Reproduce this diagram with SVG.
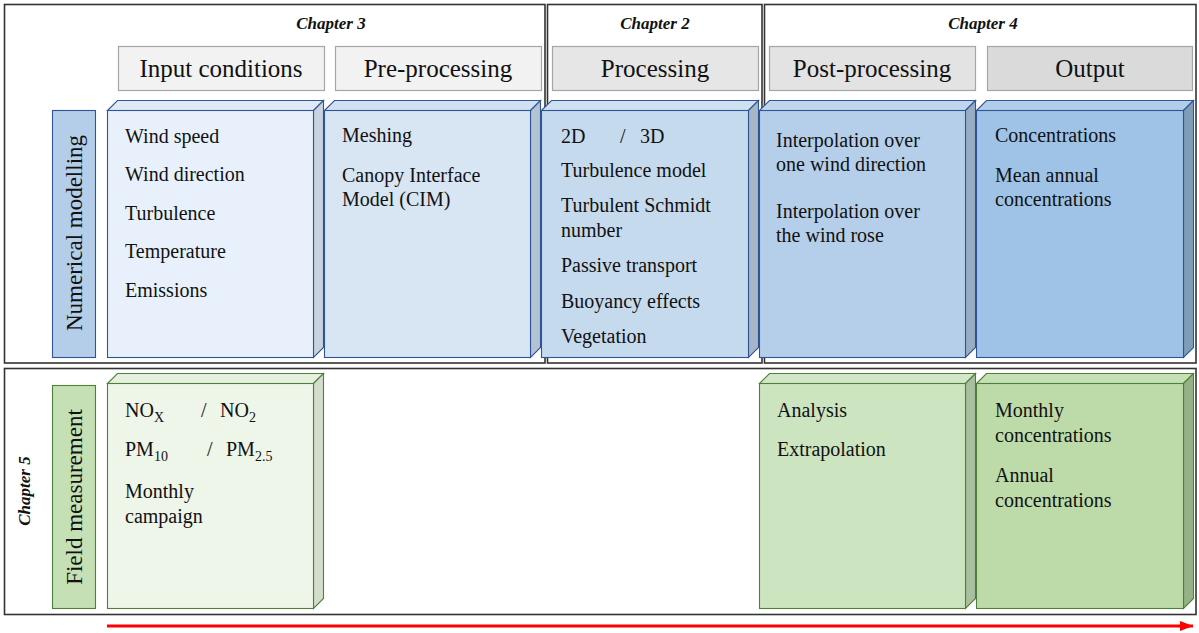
<svg xmlns="http://www.w3.org/2000/svg" width="1199" height="633" viewBox="0 0 1199 633">
<style>
text{font-family:"Liberation Serif","Times New Roman",serif;fill:#111}
.t{font-size:20px}
.h{font-size:25px;text-anchor:middle}
.ch{font-size:17px;font-weight:bold;font-style:italic;text-anchor:middle}
.v{font-size:23px;text-anchor:middle}
.frame{fill:none;stroke:#333;stroke-width:1.6}
.hb{stroke:#a6a6a6;stroke-width:1.2}
.b{stroke:#2f5597;stroke-width:1.1}
.g{stroke:#4f7f3a;stroke-width:1.1}
.sub{font-size:14px}
</style>
<defs>
<marker id="ah" markerWidth="14" markerHeight="12" refX="13" refY="6" orient="auto" markerUnits="userSpaceOnUse">
<path d="M0,1 L13,6 L0,11 Z" fill="#ff0000"/>
</marker>
</defs>
<rect width="1199" height="633" fill="#fff"/>

<g id="frames">
<rect class="frame" x="4.5" y="4.5" width="540.5" height="358.5"/>
<rect class="frame" x="547.5" y="4.5" width="214.5" height="358.5"/>
<rect class="frame" x="764.5" y="4.5" width="431.5" height="358.5"/>
<rect class="frame" x="4.5" y="368.5" width="1191.5" height="246"/>
<text class="ch" x="331" y="29">Chapter 3</text>
<text class="ch" x="655" y="29">Chapter 2</text>
<text class="ch" x="983" y="29">Chapter 4</text>
<text class="ch" transform="translate(30,491) rotate(-90)">Chapter 5</text>
</g>

<g id="headers">
<g id="h-input"><rect class="hb" x="118.5" y="46.5" width="206" height="44" fill="#f2f2f2"/><text class="h" x="221" y="77">Input conditions</text></g>
<g id="h-pre"><rect class="hb" x="335.5" y="46.5" width="206" height="44" fill="#f2f2f2"/><text class="h" x="438" y="77">Pre-processing</text></g>
<g id="h-proc"><rect class="hb" x="552.5" y="46.5" width="206" height="44" fill="#e6e6e6"/><text class="h" x="655" y="77">Processing</text></g>
<g id="h-post"><rect class="hb" x="769.5" y="46.5" width="206" height="44" fill="#e3e3e3"/><text class="h" x="872" y="77">Post-processing</text></g>
<g id="h-out"><rect class="hb" x="987.5" y="46.5" width="205" height="44" fill="#dadada"/><text class="h" x="1090" y="77">Output</text></g>
</g>

<g id="num-label">
<rect class="b" x="52.5" y="110.5" width="43" height="247" fill="#b4cde8"/>
<text class="v" transform="translate(82,233) rotate(-90)">Numerical modelling</text>
</g>

<g id="num-input">
<polygon class="b" points="107.5,110.5 117.5,100.5 323.5,100.5 313.5,110.5" fill="#dfeaf6"/>
<polygon class="b" points="313.5,110.5 323.5,100.5 323.5,347.5 313.5,357.5" fill="#c8d3df"/>
<rect class="b" x="107.5" y="110.5" width="206" height="247" fill="#e8f1fb"/>
<text class="t" x="125" y="143">Wind speed</text>
<text class="t" x="125" y="181">Wind direction</text>
<text class="t" x="125" y="220">Turbulence</text>
<text class="t" x="125" y="258">Temperature</text>
<text class="t" x="125" y="297">Emissions</text>
</g>

<g id="num-pre">
<polygon class="b" points="324.5,110.5 334.5,100.5 540.5,100.5 530.5,110.5" fill="#d2e1f1"/>
<polygon class="b" points="530.5,110.5 540.5,100.5 540.5,347.5 530.5,357.5" fill="#b4c3d3"/>
<rect class="b" x="324.5" y="110.5" width="206" height="247" fill="#d8e5f3"/>
<text class="t" x="342" y="142">Meshing</text>
<text class="t" x="342" y="182">Canopy Interface</text>
<text class="t" x="342" y="206">Model (CIM)</text>
</g>

<g id="num-proc">
<polygon class="b" points="541.5,110.5 551.5,100.5 758.5,100.5 748.5,110.5" fill="#cfe0f1"/>
<polygon class="b" points="748.5,110.5 758.5,100.5 758.5,347.5 748.5,357.5" fill="#a6b6c8"/>
<rect class="b" x="541.5" y="110.5" width="207" height="247" fill="#c6daee"/>
<text class="t" x="561" y="143">2D</text>
<text class="t" x="620" y="143">/</text>
<text class="t" x="640" y="143">3D</text>
<text class="t" x="561" y="177">Turbulence model</text>
<text class="t" x="561" y="212">Turbulent Schmidt</text>
<text class="t" x="561" y="237">number</text>
<text class="t" x="561" y="272">Passive transport</text>
<text class="t" x="561" y="308">Buoyancy effects</text>
<text class="t" x="561" y="343">Vegetation</text>
</g>

<g id="num-post">
<polygon class="b" points="759.5,110.5 769.5,100.5 975.5,100.5 965.5,110.5" fill="#c0d6ed"/>
<polygon class="b" points="965.5,110.5 975.5,100.5 975.5,347.5 965.5,357.5" fill="#98adc3"/>
<rect class="b" x="759.5" y="110.5" width="206" height="247" fill="#b5cfea"/>
<text class="t" x="776" y="147">Interpolation over</text>
<text class="t" x="776" y="171">one wind direction</text>
<text class="t" x="776" y="218">Interpolation over</text>
<text class="t" x="776" y="242">the wind rose</text>
</g>

<g id="num-out">
<polygon class="b" points="976.5,110.5 986.5,100.5 1193.5,100.5 1183.5,110.5" fill="#b1cdea"/>
<polygon class="b" points="1183.5,110.5 1193.5,100.5 1193.5,347.5 1183.5,357.5" fill="#7f9cb9"/>
<rect class="b" x="976.5" y="110.5" width="207" height="247" fill="#9ec3e6"/>
<text class="t" x="995" y="142">Concentrations</text>
<text class="t" x="995" y="182">Mean annual</text>
<text class="t" x="995" y="206">concentrations</text>
</g>

<g id="field-label">
<rect class="g" x="52.5" y="385.5" width="43" height="223" fill="#c5e0b4"/>
<text class="v" transform="translate(82,497) rotate(-90)">Field measurement</text>
</g>

<g id="field-input">
<polygon class="g" points="107.5,383.5 117.5,373.5 323.5,373.5 313.5,383.5" fill="#e6f0df"/>
<polygon class="g" points="313.5,383.5 323.5,373.5 323.5,598.5 313.5,608.5" fill="#d3ddcc"/>
<rect class="g" x="107.5" y="383.5" width="206" height="225" fill="#eef5e9"/>
<text class="t" x="125" y="417">NO<tspan class="sub" dy="5">X</tspan></text>
<text class="t" x="201" y="417">/</text>
<text class="t" x="220" y="417">NO<tspan class="sub" dy="5">2</tspan></text>
<text class="t" x="125" y="456">PM<tspan class="sub" dy="5">10</tspan></text>
<text class="t" x="207" y="456">/</text>
<text class="t" x="226" y="456">PM<tspan class="sub" dy="5">2.5</tspan></text>
<text class="t" x="125" y="498">Monthly</text>
<text class="t" x="125" y="523">campaign</text>
</g>

<g id="field-post">
<polygon class="g" points="759.5,383.5 769.5,373.5 975.5,373.5 965.5,383.5" fill="#d2e7c7"/>
<polygon class="g" points="965.5,383.5 975.5,373.5 975.5,598.5 965.5,608.5" fill="#a9bf9f"/>
<rect class="g" x="759.5" y="383.5" width="206" height="225" fill="#cde4c0"/>
<text class="t" x="777" y="417">Analysis</text>
<text class="t" x="777" y="456">Extrapolation</text>
</g>

<g id="field-out">
<polygon class="g" points="976.5,383.5 986.5,373.5 1193.5,373.5 1183.5,383.5" fill="#c6e0b5"/>
<polygon class="g" points="1183.5,383.5 1193.5,373.5 1193.5,598.5 1183.5,608.5" fill="#96b187"/>
<rect class="g" x="976.5" y="383.5" width="207" height="225" fill="#bddba8"/>
<text class="t" x="995" y="417">Monthly</text>
<text class="t" x="995" y="442">concentrations</text>
<text class="t" x="995" y="482">Annual</text>
<text class="t" x="995" y="507">concentrations</text>
</g>

<g id="connectors">
<line x1="107" y1="626" x2="1193" y2="626" stroke="#ff0000" stroke-width="3" marker-end="url(#ah)"/>
</g>
</svg>
